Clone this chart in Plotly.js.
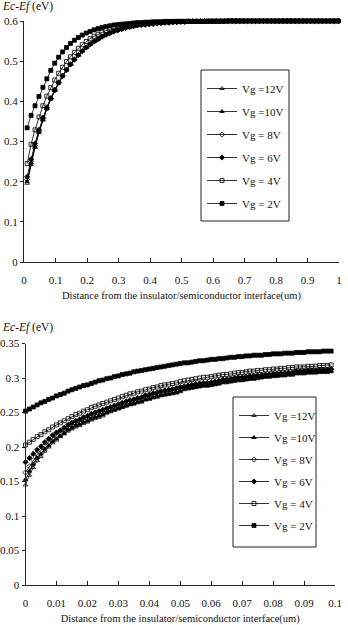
<!DOCTYPE html>
<html>
<head>
<meta charset="utf-8">
<script src="https://cdn.plot.ly/plotly-3.0.1.min.js"></script>
<style>html,body{margin:0;padding:0;background:#fff;}#chart{width:348px;height:625px;}</style>
</head>
<body>
<div id="chart"></div>
<script>
// ---------- data: top chart (0 - 1 um) ----------
const topX = [0.01,0.0225,0.035,0.0475,0.06,0.0725,0.085,0.0975,0.11,0.1225,
0.135,0.1475,0.16,0.1725,0.185,0.1975,0.21,0.2225,0.235,0.2475,
0.26,0.2725,0.285,0.2975,0.31,0.3225,0.335,0.3475,0.36,0.3725,
0.385,0.3975,0.41,0.4225,0.435,0.4475,0.46,0.4725,0.485,0.4975,
0.51,0.5225,0.535,0.5475,0.56,0.5725,0.585,0.5975,0.61,0.6225,
0.635,0.6475,0.66,0.6725,0.685,0.6975,0.71,0.7225,0.735,0.7475,
0.76,0.7725,0.785,0.7975,0.81,0.8225,0.835,0.8475,0.86,0.8725,
0.885,0.8975,0.91,0.9225,0.935,0.9475,0.96,0.9725,0.985,0.9975];

const top12V = [0.196,0.243,0.285,0.322,0.353,0.381,0.406,0.427,0.446,0.463,
0.478,0.492,0.504,0.515,0.525,0.534,0.542,0.549,0.555,0.561,
0.566,0.570,0.574,0.577,0.580,0.583,0.585,0.587,0.589,0.590,
0.591,0.592,0.593,0.594,0.595,0.596,0.596,0.597,0.597,0.598,
0.598,0.599,0.599,0.599,0.599,0.599,0.599,0.599,0.599,0.599,
0.599,0.6,0.6,0.6,0.6,0.6,0.6,0.6,0.6,0.6,
0.6,0.6,0.6,0.6,0.6,0.6,0.6,0.6,0.6,0.6,
0.6,0.6,0.6,0.6,0.6,0.6,0.6,0.6,0.6,0.6];

const top10V = [0.200,0.247,0.288,0.324,0.355,0.382,0.406,0.427,0.446,0.463,
0.478,0.492,0.504,0.515,0.525,0.534,0.542,0.549,0.555,0.561,
0.566,0.570,0.574,0.577,0.580,0.583,0.585,0.587,0.589,0.590,
0.591,0.592,0.593,0.594,0.595,0.596,0.596,0.597,0.597,0.598,
0.598,0.599,0.599,0.599,0.599,0.599,0.599,0.599,0.599,0.599,
0.599,0.6,0.6,0.6,0.6,0.6,0.6,0.6,0.6,0.6,
0.6,0.6,0.6,0.6,0.6,0.6,0.6,0.6,0.6,0.6,
0.6,0.6,0.6,0.6,0.6,0.6,0.6,0.6,0.6,0.6];

const top8V = [0.205,0.251,0.291,0.326,0.357,0.383,0.407,0.427,0.446,0.463,
0.478,0.492,0.504,0.515,0.525,0.534,0.542,0.549,0.555,0.561,
0.566,0.570,0.574,0.577,0.580,0.583,0.585,0.587,0.589,0.590,
0.591,0.592,0.593,0.594,0.595,0.596,0.596,0.597,0.597,0.598,
0.598,0.599,0.599,0.599,0.599,0.599,0.599,0.599,0.599,0.599,
0.599,0.6,0.6,0.6,0.6,0.6,0.6,0.6,0.6,0.6,
0.6,0.6,0.6,0.6,0.6,0.6,0.6,0.6,0.6,0.6,
0.6,0.6,0.6,0.6,0.6,0.6,0.6,0.6,0.6,0.6];

const top6V = [0.212,0.256,0.295,0.329,0.359,0.385,0.408,0.429,0.447,0.464,
0.479,0.492,0.504,0.515,0.525,0.534,0.542,0.549,0.555,0.561,
0.566,0.570,0.574,0.577,0.580,0.583,0.585,0.587,0.589,0.590,
0.591,0.592,0.593,0.594,0.595,0.596,0.596,0.597,0.597,0.598,
0.598,0.599,0.599,0.599,0.599,0.599,0.599,0.599,0.599,0.599,
0.599,0.6,0.6,0.6,0.6,0.6,0.6,0.6,0.6,0.6,
0.6,0.6,0.6,0.6,0.6,0.6,0.6,0.6,0.6,0.6,
0.6,0.6,0.6,0.6,0.6,0.6,0.6,0.6,0.6,0.6];

const top4V = [0.245,0.293,0.329,0.361,0.389,0.413,0.434,0.453,0.470,0.485,
0.499,0.511,0.522,0.532,0.541,0.549,0.556,0.562,0.567,0.572,
0.576,0.579,0.582,0.585,0.587,0.589,0.590,0.592,0.593,0.594,
0.595,0.596,0.596,0.597,0.597,0.598,0.598,0.598,0.599,0.599,
0.599,0.599,0.599,0.599,0.599,0.599,0.599,0.599,0.599,0.599,
0.599,0.6,0.6,0.6,0.6,0.6,0.6,0.6,0.6,0.6,
0.6,0.6,0.6,0.6,0.6,0.6,0.6,0.6,0.6,0.6,
0.6,0.6,0.6,0.6,0.6,0.6,0.6,0.6,0.6,0.6];

const top2V = [0.334,0.365,0.389,0.412,0.435,0.456,0.477,0.495,0.510,0.523,
0.534,0.544,0.552,0.559,0.565,0.570,0.574,0.578,0.581,0.584,
0.586,0.588,0.590,0.591,0.592,0.593,0.594,0.595,0.596,0.596,
0.597,0.597,0.598,0.598,0.598,0.599,0.599,0.599,0.599,0.599,
0.599,0.599,0.599,0.599,0.599,0.599,0.6,0.6,0.6,0.6,
0.6,0.6,0.6,0.6,0.6,0.6,0.6,0.6,0.6,0.6,
0.6,0.6,0.6,0.6,0.6,0.6,0.6,0.6,0.6,0.6,
0.6,0.6,0.6,0.6,0.6,0.6,0.6,0.6,0.6,0.6];

// ---------- data: bottom chart (0 - 0.1 um) ----------
const botX = [0,0.00125,0.0025,0.00375,0.005,0.00625,0.0075,0.00875,0.01,0.01125,
0.0125,0.01375,0.015,0.01625,0.0175,0.01875,0.02,0.02125,0.0225,0.02375,
0.025,0.02625,0.0275,0.02875,0.03,0.03125,0.0325,0.03375,0.035,0.03625,
0.0375,0.03875,0.04,0.04125,0.0425,0.04375,0.045,0.04625,0.0475,0.04875,
0.05,0.05125,0.0525,0.05375,0.055,0.05625,0.0575,0.05875,0.06,0.06125,
0.0625,0.06375,0.065,0.06625,0.0675,0.06875,0.07,0.07125,0.0725,0.07375,
0.075,0.07625,0.0775,0.07875,0.08,0.08125,0.0825,0.08375,0.085,0.08625,
0.0875,0.08875,0.09,0.09125,0.0925,0.09375,0.095,0.09625,0.0975,0.09875];

const bot12V = [0.145,0.159,0.170,0.180,0.186,0.194,0.200,0.206,0.210,0.215,
0.219,0.223,0.226,0.229,0.231,0.234,0.236,0.239,0.241,0.243,
0.245,0.249,0.251,0.253,0.255,0.257,0.259,0.261,0.262,0.264,
0.265,0.268,0.269,0.271,0.272,0.274,0.275,0.276,0.277,0.278,
0.280,0.283,0.284,0.285,0.286,0.287,0.288,0.288,0.289,0.290,
0.291,0.293,0.293,0.294,0.295,0.296,0.296,0.297,0.298,0.298,
0.299,0.300,0.301,0.301,0.302,0.302,0.303,0.303,0.304,0.304,
0.306,0.306,0.306,0.307,0.307,0.307,0.308,0.308,0.308,0.309];

const bot10V = [0.153,0.165,0.175,0.184,0.190,0.197,0.202,0.208,0.212,0.216,
0.220,0.225,0.228,0.231,0.233,0.236,0.238,0.241,0.243,0.245,
0.247,0.250,0.252,0.254,0.256,0.258,0.260,0.262,0.263,0.265,
0.266,0.269,0.270,0.272,0.273,0.275,0.276,0.277,0.278,0.279,
0.281,0.284,0.285,0.286,0.287,0.288,0.289,0.289,0.290,0.291,
0.292,0.294,0.294,0.295,0.296,0.297,0.297,0.298,0.299,0.299,
0.300,0.301,0.302,0.302,0.303,0.303,0.304,0.304,0.305,0.305,
0.307,0.307,0.307,0.308,0.308,0.308,0.309,0.309,0.309,0.310];

const bot8V = [0.163,0.172,0.181,0.189,0.195,0.202,0.207,0.213,0.217,0.221,
0.225,0.228,0.231,0.234,0.236,0.239,0.241,0.244,0.246,0.248,
0.250,0.253,0.255,0.257,0.259,0.261,0.263,0.265,0.266,0.268,
0.269,0.272,0.273,0.275,0.276,0.278,0.279,0.280,0.281,0.282,
0.284,0.286,0.287,0.288,0.289,0.290,0.291,0.291,0.292,0.293,
0.294,0.296,0.296,0.297,0.298,0.299,0.299,0.300,0.301,0.301,
0.302,0.303,0.304,0.304,0.305,0.305,0.306,0.306,0.307,0.307,
0.309,0.309,0.309,0.310,0.310,0.310,0.311,0.311,0.311,0.312];

const bot6V = [0.178,0.184,0.190,0.196,0.201,0.207,0.212,0.217,0.221,0.224,
0.228,0.232,0.235,0.238,0.240,0.243,0.245,0.248,0.250,0.252,
0.254,0.256,0.258,0.260,0.262,0.264,0.266,0.268,0.269,0.271,
0.272,0.275,0.276,0.278,0.279,0.281,0.282,0.283,0.284,0.285,
0.287,0.288,0.289,0.290,0.291,0.292,0.293,0.293,0.294,0.295,
0.296,0.298,0.298,0.299,0.300,0.301,0.301,0.302,0.303,0.303,
0.304,0.304,0.305,0.305,0.306,0.306,0.307,0.307,0.308,0.308,
0.310,0.310,0.310,0.311,0.311,0.311,0.312,0.312,0.312,0.313];

const bot4V = [0.203,0.207,0.211,0.215,0.218,0.222,0.225,0.229,0.232,0.235,
0.238,0.241,0.244,0.247,0.249,0.252,0.254,0.257,0.259,0.261,
0.263,0.265,0.267,0.269,0.271,0.273,0.275,0.277,0.278,0.280,
0.281,0.283,0.284,0.286,0.287,0.289,0.290,0.291,0.292,0.293,
0.295,0.296,0.297,0.298,0.299,0.300,0.301,0.301,0.302,0.303,
0.304,0.305,0.305,0.306,0.307,0.308,0.308,0.309,0.310,0.310,
0.311,0.311,0.312,0.312,0.313,0.313,0.314,0.314,0.315,0.315,
0.316,0.316,0.316,0.317,0.317,0.317,0.318,0.318,0.318,0.319];

const bot2V = [0.252,0.255,0.258,0.261,0.264,0.266,0.269,0.271,0.274,0.276,
0.278,0.281,0.283,0.285,0.287,0.289,0.290,0.292,0.294,0.296,
0.297,0.299,0.300,0.302,0.303,0.305,0.306,0.307,0.309,0.310,
0.311,0.312,0.313,0.314,0.315,0.316,0.317,0.318,0.319,0.320,
0.321,0.322,0.322,0.323,0.324,0.325,0.325,0.326,0.327,0.327,
0.328,0.328,0.329,0.330,0.330,0.331,0.331,0.332,0.332,0.333,
0.333,0.333,0.334,0.334,0.335,0.335,0.335,0.336,0.336,0.336,
0.337,0.337,0.337,0.338,0.338,0.338,0.338,0.339,0.339,0.339];

// ---------- labels ----------
const seriesNames = ['Vg =12V','Vg =10V','Vg = 8V','Vg = 6V','Vg = 4V','Vg = 2V'];
const topXTickVals = [0,0.1,0.2,0.3,0.4,0.5,0.6,0.7,0.8,0.9,1];
const topXTickText = ['0','0.1','0.2','0.3','0.4','0.5','0.6','0.7','0.8','0.9','1'];
const topYTickVals = [0,0.1,0.2,0.3,0.4,0.5,0.6];
const topYTickText = ['0','0.1','0.2','0.3','0.4','0.5','0.6'];
const botXTickVals = [0,0.01,0.02,0.03,0.04,0.05,0.06,0.07,0.08,0.09,0.1];
const botXTickText = ['0','0.01','0.02','0.03','0.04','0.05','0.06','0.07','0.08','0.09','0.1'];
const botYTickVals = [0,0.05,0.1,0.15,0.2,0.25,0.3,0.35];
const botYTickText = ['0','0.05','0.1','0.15','0.2','0.25','0.3','0.35'];
const xTitle = 'Distance from the insulator/semiconductor interface(um)';
const yTitle = '<i>Ec-Ef</i> (eV)';

// ---------- styling ----------
const symbols = ['triangle-up-open','triangle-up','diamond-open','diamond','square-open','square'];
const FONT = 'Liberation Serif, Times New Roman, serif';

const topSeries = [top12V, top10V, top8V, top6V, top4V, top2V];
const botSeries = [bot12V, bot10V, bot8V, bot6V, bot4V, bot2V];

const traces = [];
function addTrace(xs, ys, i, xa, ya, lg, grp) {
  traces.push({
    type: 'scatter', mode: 'lines+markers', x: xs, y: ys, name: seriesNames[i],
    xaxis: xa, yaxis: ya, legend: lg, legendgroup: grp + i, cliponaxis: false,
    line: {color: '#000', width: 0.8},
    marker: {symbol: symbols[i], size: 4, color: '#000', line: {color: '#000', width: 0.8}}
  });
}
topSeries.forEach((ys, i) => addTrace(topX, ys, i, 'x', 'y', 'legend', 't'));
botSeries.forEach((ys, i) => addTrace(botX, ys, i, 'x2', 'y2', 'legend2', 'b'));

const W = 348, H = 625;
const axisCommon = {
  showline: true, linecolor: '#222', linewidth: 1, showgrid: false, zeroline: false,
  tickcolor: '#222', tickfont: {family: FONT, size: 11, color: '#111'}, tickmode: 'array'
};
const legendCommon = {
  xanchor: 'left', yanchor: 'top', bgcolor: 'rgba(0,0,0,0)', borderwidth: 0,
  font: {family: FONT, size: 11, color: '#111'}, traceorder: 'grouped', itemwidth: 30
};
function box(x0, y0, x1, y1) {
  return {type: 'rect', xref: 'paper', yref: 'paper', x0: x0 / W, x1: x1 / W, y0: 1 - y1 / H, y1: 1 - y0 / H,
          line: {color: '#222', width: 1}, fillcolor: '#fff', layer: 'below'};
}

const layout = {
  width: W, height: H,
  margin: {l: 0, r: 0, t: 0, b: 0},
  paper_bgcolor: '#fff', plot_bgcolor: 'rgba(0,0,0,0)',
  font: {family: FONT, size: 11, color: '#111'},
  showlegend: true,
  xaxis: Object.assign({}, axisCommon, {
    domain: [24 / W, 339 / W], range: [0, 1], anchor: 'y',
    tickvals: topXTickVals, ticktext: topXTickText, ticks: 'inside', ticklen: 4, ticklabelstandoff: 8,
    title: {text: xTitle, font: {family: FONT, size: 10.5, color: '#111'}, standoff: 6}
  }),
  yaxis: Object.assign({}, axisCommon, {
    domain: [1 - 262 / H, 1 - 21 / H], range: [0, 0.6], anchor: 'x',
    tickvals: topYTickVals, ticktext: topYTickText, ticks: 'outside', ticklen: 3
  }),
  xaxis2: Object.assign({}, axisCommon, {
    domain: [25.5 / W, 335 / W], range: [0, 0.1], anchor: 'y2',
    tickvals: botXTickVals, ticktext: botXTickText, ticks: 'inside', ticklen: 4, ticklabelstandoff: 8,
    title: {text: xTitle, font: {family: FONT, size: 10.5, color: '#111'}, standoff: 6}
  }),
  yaxis2: Object.assign({}, axisCommon, {
    domain: [1 - 585 / H, 1 - 343.5 / H], range: [0, 0.35], anchor: 'x2',
    tickvals: botYTickVals, ticktext: botYTickText, ticks: 'outside', ticklen: 3
  }),
  legend: Object.assign({}, legendCommon, {x: 202 / W, y: 1 - 74 / H, tracegroupgap: 4}),
  legend2: Object.assign({}, legendCommon, {x: 234 / W, y: 1 - 401 / H, tracegroupgap: 3}),
  shapes: [box(201, 70, 289, 221), box(233, 397, 316, 547)],
  annotations: [
    {xref: 'paper', yref: 'paper', x: 0, y: 1 - 6 / H, xanchor: 'left', yanchor: 'middle',
     text: yTitle, showarrow: false, font: {family: FONT, size: 11.5, color: '#111'}},
    {xref: 'paper', yref: 'paper', x: 0, y: 1 - 327 / H, xanchor: 'left', yanchor: 'middle',
     text: yTitle, showarrow: false, font: {family: FONT, size: 11.5, color: '#111'}}
  ]
};

Plotly.newPlot('chart', traces, layout, {staticPlot: true, displayModeBar: false});
</script>
</body>
</html>
